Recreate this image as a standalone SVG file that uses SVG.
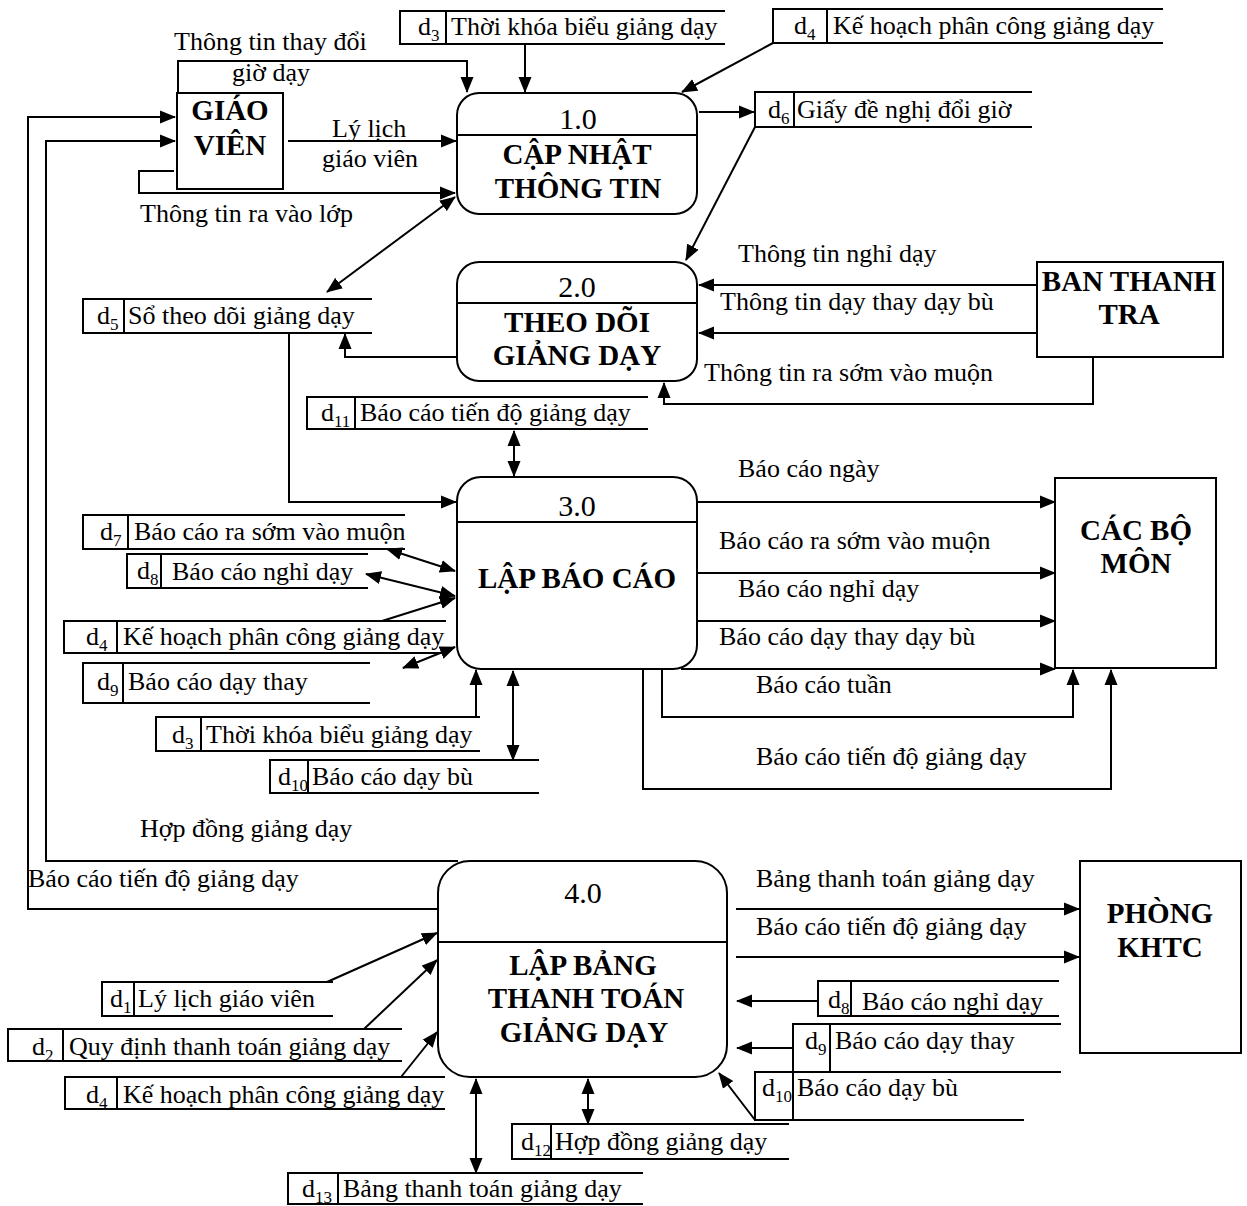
<svg xmlns="http://www.w3.org/2000/svg" width="1247" height="1206" viewBox="0 0 1247 1206">
<style>
text{font-family:"Liberation Serif","Times New Roman",serif;font-size:26px;fill:#000}
.b{font-weight:bold;font-size:29px;text-anchor:middle}
.n{font-size:30px;text-anchor:middle}
.s{font-size:17px}
.ln{fill:none;stroke:#000;stroke-width:2}
.a{marker-end:url(#ah)}
.aa{marker-start:url(#ah);marker-end:url(#ah)}
.box{fill:#fff;stroke:#000;stroke-width:2}
</style>
<defs>
<marker id="ah" markerUnits="userSpaceOnUse" markerWidth="16" markerHeight="14" refX="15" refY="6.5" orient="auto-start-reverse" viewBox="0 0 16 13">
<path d="M0,0 L16,6.5 L0,13 z" fill="#000"/>
</marker>
</defs>
<rect width="1247" height="1206" fill="#fff"/>

<g id="connectors">
<path class="ln a" d="M178,93 V61 H467 V92"/>
<path class="ln a" d="M288,141 H456"/>
<path class="ln a" d="M174,171 H139 V193 H455"/>
<path class="ln a" d="M525,44 V92"/>
<path class="ln a" d="M773,43 L682,92"/>
<path class="ln a" d="M699,112 H754"/>
<path class="ln a" d="M755,127 L686,260"/>
<path class="ln aa" d="M455,197 L327,292"/>
<path class="ln a" d="M457,357 H345 V334"/>
<path class="ln a" d="M1037,285 H699"/>
<path class="ln a" d="M1037,333 H699"/>
<path class="ln a" d="M1093,357 V404 H664 V383"/>
<path class="ln aa" d="M514,431 V476"/>
<path class="ln a" d="M289,333 V502 H456"/>
<path class="ln a" d="M697,502 H1055"/>
<path class="ln a" d="M697,573 H1055"/>
<path class="ln a" d="M697,621 H1055"/>
<path class="ln a" d="M681,669 H1055"/>
<path class="ln a" d="M662,669 V717 H1073 V670"/>
<path class="ln a" d="M643,669 V789 H1111 V670"/>
<path class="ln aa" d="M387,549 L455,571"/>
<path class="ln aa" d="M366,574 L455,596"/>
<path class="ln a" d="M382,621 L455,598"/>
<path class="ln aa" d="M403,668 L455,647"/>
<path class="ln a" d="M476,717 V670"/>
<path class="ln aa" d="M513,671 V760"/>
<path class="ln a" d="M458,861 H46 V141 H175"/>
<path class="ln a" d="M437,909 H28 V117 H175"/>
<path class="ln a" d="M736,909 H1079"/>
<path class="ln a" d="M736,957 H1079"/>
<path class="ln a" d="M818,1001 H737"/>
<path class="ln a" d="M793,1048 H737"/>
<path class="ln a" d="M755,1120 L719,1073"/>
<path class="ln aa" d="M588,1079 V1124"/>
<path class="ln aa" d="M476,1079 V1173"/>
<path class="ln a" d="M327,982 L437,933"/>
<path class="ln a" d="M364,1029 L437,960"/>
<path class="ln a" d="M401,1077 L437,1032"/>
</g>

<g id="labels">
<text x="174" y="50">Thông tin thay đổi</text>
<text x="232" y="81">giờ dạy</text>
<text x="332" y="137">Lý lịch</text>
<text x="322" y="167">giáo viên</text>
<text x="140" y="222">Thông tin ra vào lớp</text>
<text x="738" y="262">Thông tin nghỉ dạy</text>
<text x="720" y="310">Thông tin dạy thay dạy bù</text>
<text x="704" y="381">Thông tin ra sớm vào muộn</text>
<text x="738" y="477">Báo cáo ngày</text>
<text x="719" y="549">Báo cáo ra sớm vào muộn</text>
<text x="738" y="597">Báo cáo nghỉ dạy</text>
<text x="719" y="645">Báo cáo dạy thay dạy bù</text>
<text x="756" y="693">Báo cáo tuần</text>
<text x="756" y="765">Báo cáo tiến độ giảng dạy</text>
<text x="140" y="837">Hợp đồng giảng dạy</text>
<text x="28" y="887">Báo cáo tiến độ giảng dạy</text>
<text x="756" y="887">Bảng thanh toán giảng dạy</text>
<text x="756" y="935">Báo cáo tiến độ giảng dạy</text>
</g>

<g id="giao-vien">
<rect class="box" x="177" y="93" width="106" height="96"/>
<text class="b" x="230" y="120">GIÁO</text>
<text class="b" x="230" y="155">VIÊN</text>
</g>

<g id="p1">
<rect class="box" x="457" y="93" width="240" height="121" rx="22"/>
<path class="ln" d="M457,135 H697"/>
<text class="n" x="578" y="129">1.0</text>
<text class="b" x="577" y="164">CẬP NHẬT</text>
<text class="b" x="578" y="198">THÔNG TIN</text>
</g>

<g id="p2">
<rect class="box" x="457" y="262" width="240" height="119" rx="22"/>
<path class="ln" d="M457,303 H697"/>
<text class="n" x="577" y="297">2.0</text>
<text class="b" x="577" y="332">THEO DÕI</text>
<text class="b" x="577" y="365">GIẢNG DẠY</text>
</g>

<g id="p3">
<rect class="box" x="457" y="477" width="240" height="192" rx="24"/>
<path class="ln" d="M457,522 H697"/>
<text class="n" x="577" y="516">3.0</text>
<text class="b" x="577" y="588">LẬP BÁO CÁO</text>
</g>

<g id="p4">
<rect class="box" x="438" y="861" width="289" height="216" rx="32"/>
<path class="ln" d="M438,942 H727"/>
<text class="n" x="583" y="903">4.0</text>
<text class="b" x="583" y="975">LẬP BẢNG</text>
<text class="b" x="586" y="1008">THANH TOÁN</text>
<text class="b" x="584" y="1042">GIẢNG DẠY</text>
</g>

<g id="ban-thanh-tra">
<rect class="box" x="1037" y="262" width="186" height="95"/>
<text class="b" x="1129" y="291">BAN THANH</text>
<text class="b" x="1129" y="324">TRA</text>
</g>

<g id="cac-bo-mon">
<rect class="box" x="1055" y="478" width="161" height="190"/>
<text class="b" x="1136" y="540">CÁC BỘ</text>
<text class="b" x="1136" y="573">MÔN</text>
</g>

<g id="phong-khtc">
<rect class="box" x="1080" y="861" width="161" height="192"/>
<text class="b" x="1160" y="923">PHÒNG</text>
<text class="b" x="1160" y="957">KHTC</text>
</g>

<g id="d3-top">
<path class="ln" d="M725,11 H400 V44 H725 M446,11 V44"/>
<text x="418" y="35">d<tspan class="s" dy="6">3</tspan></text>
<text x="451" y="35">Thời khóa biểu giảng dạy</text>
</g>
<g id="d4-top">
<path class="ln" d="M1163,9 H773 V43 H1163 M827,9 V43"/>
<text x="794" y="34">d<tspan class="s" dy="6">4</tspan></text>
<text x="833" y="34">Kế hoạch phân công giảng dạy</text>
</g>
<g id="d6">
<path class="ln" d="M1032,92 H755 V127 H1032 M794,92 V127"/>
<text x="768" y="118">d<tspan class="s" dy="6">6</tspan></text>
<text x="797" y="118">Giấy đề nghị đổi giờ</text>
</g>
<g id="d5">
<path class="ln" d="M372,299 H83 V333 H372 M124,299 V333"/>
<text x="97" y="324">d<tspan class="s" dy="6">5</tspan></text>
<text x="128" y="324">Sổ theo dõi giảng dạy</text>
</g>
<g id="d11">
<path class="ln" d="M648,397 H307 V429 H648 M355,397 V429"/>
<text x="321" y="421">d<tspan class="s" dy="6">11</tspan></text>
<text x="360" y="421">Báo cáo tiến độ giảng dạy</text>
</g>
<g id="d7">
<path class="ln" d="M405,515 H83 V549 H405 M128,515 V549"/>
<text x="100" y="540">d<tspan class="s" dy="6">7</tspan></text>
<text x="134" y="540">Báo cáo ra sớm vào muộn</text>
</g>
<g id="d8-a">
<path class="ln" d="M368,554 H127 V588 H368 M161,554 V588"/>
<text x="137" y="579">d<tspan class="s" dy="6">8</tspan></text>
<text x="172" y="580">Báo cáo nghỉ dạy</text>
</g>
<g id="d4-a">
<path class="ln" d="M446,621 H64 V653 H446 M117,621 V653"/>
<text x="86" y="645">d<tspan class="s" dy="6">4</tspan></text>
<text x="123" y="645">Kế hoạch phân công giảng dạy</text>
</g>
<g id="d9-a">
<path class="ln" d="M370,663 H83 V703 H370 M123,663 V703"/>
<text x="97" y="690">d<tspan class="s" dy="6">9</tspan></text>
<text x="128" y="690">Báo cáo dạy thay</text>
</g>
<g id="d3-a">
<path class="ln" d="M480,717 H156 V751 H480 M201,717 V751"/>
<text x="172" y="743">d<tspan class="s" dy="6">3</tspan></text>
<text x="206" y="743">Thời khóa biểu giảng dạy</text>
</g>
<g id="d10-a">
<path class="ln" d="M539,760 H270 V793 H539 M308,760 V793"/>
<text x="278" y="785">d<tspan class="s" dy="6">10</tspan></text>
<text x="312" y="785">Báo cáo dạy bù</text>
</g>
<g id="d8-b">
<path class="ln" d="M1059,981 H818 V1016 H1059 M851,981 V1016"/>
<text x="828" y="1008">d<tspan class="s" dy="6">8</tspan></text>
<text x="862" y="1010">Báo cáo nghỉ dạy</text>
</g>
<g id="d9-b">
<path class="ln" d="M1061,1024 H793 V1072 H1061 M830,1024 V1072"/>
<text x="805" y="1049">d<tspan class="s" dy="6">9</tspan></text>
<text x="835" y="1049">Báo cáo dạy thay</text>
</g>
<g id="d10-b">
<path class="ln" d="M1024,1072 H755 V1120 H1024 M793,1072 V1120"/>
<text x="762" y="1096">d<tspan class="s" dy="6">10</tspan></text>
<text x="797" y="1096">Báo cáo dạy bù</text>
</g>
<g id="d12">
<path class="ln" d="M789,1124 H512 V1159 H789 M551,1124 V1159"/>
<text x="521" y="1150">d<tspan class="s" dy="6">12</tspan></text>
<text x="555" y="1150">Hợp đồng giảng dạy</text>
</g>
<g id="d13">
<path class="ln" d="M643,1173 H288 V1204 H643 M338,1173 V1204"/>
<text x="302" y="1197">d<tspan class="s" dy="6">13</tspan></text>
<text x="343" y="1197">Bảng thanh toán giảng dạy</text>
</g>
<g id="d1">
<path class="ln" d="M333,982 H102 V1016 H333 M134,982 V1016"/>
<text x="110" y="1007">d<tspan class="s" dy="6">1</tspan></text>
<text x="138" y="1007">Lý lịch giáo viên</text>
</g>
<g id="d2">
<path class="ln" d="M402,1029 H8 V1061 H402 M63,1029 V1061"/>
<text x="32" y="1055">d<tspan class="s" dy="6">2</tspan></text>
<text x="69" y="1055">Quy định thanh toán giảng dạy</text>
</g>
<g id="d4-b">
<path class="ln" d="M445,1077 H65 V1109 H445 M117,1077 V1109"/>
<text x="86" y="1103">d<tspan class="s" dy="6">4</tspan></text>
<text x="123" y="1103">Kế hoạch phân công giảng dạy</text>
</g>
</svg>
